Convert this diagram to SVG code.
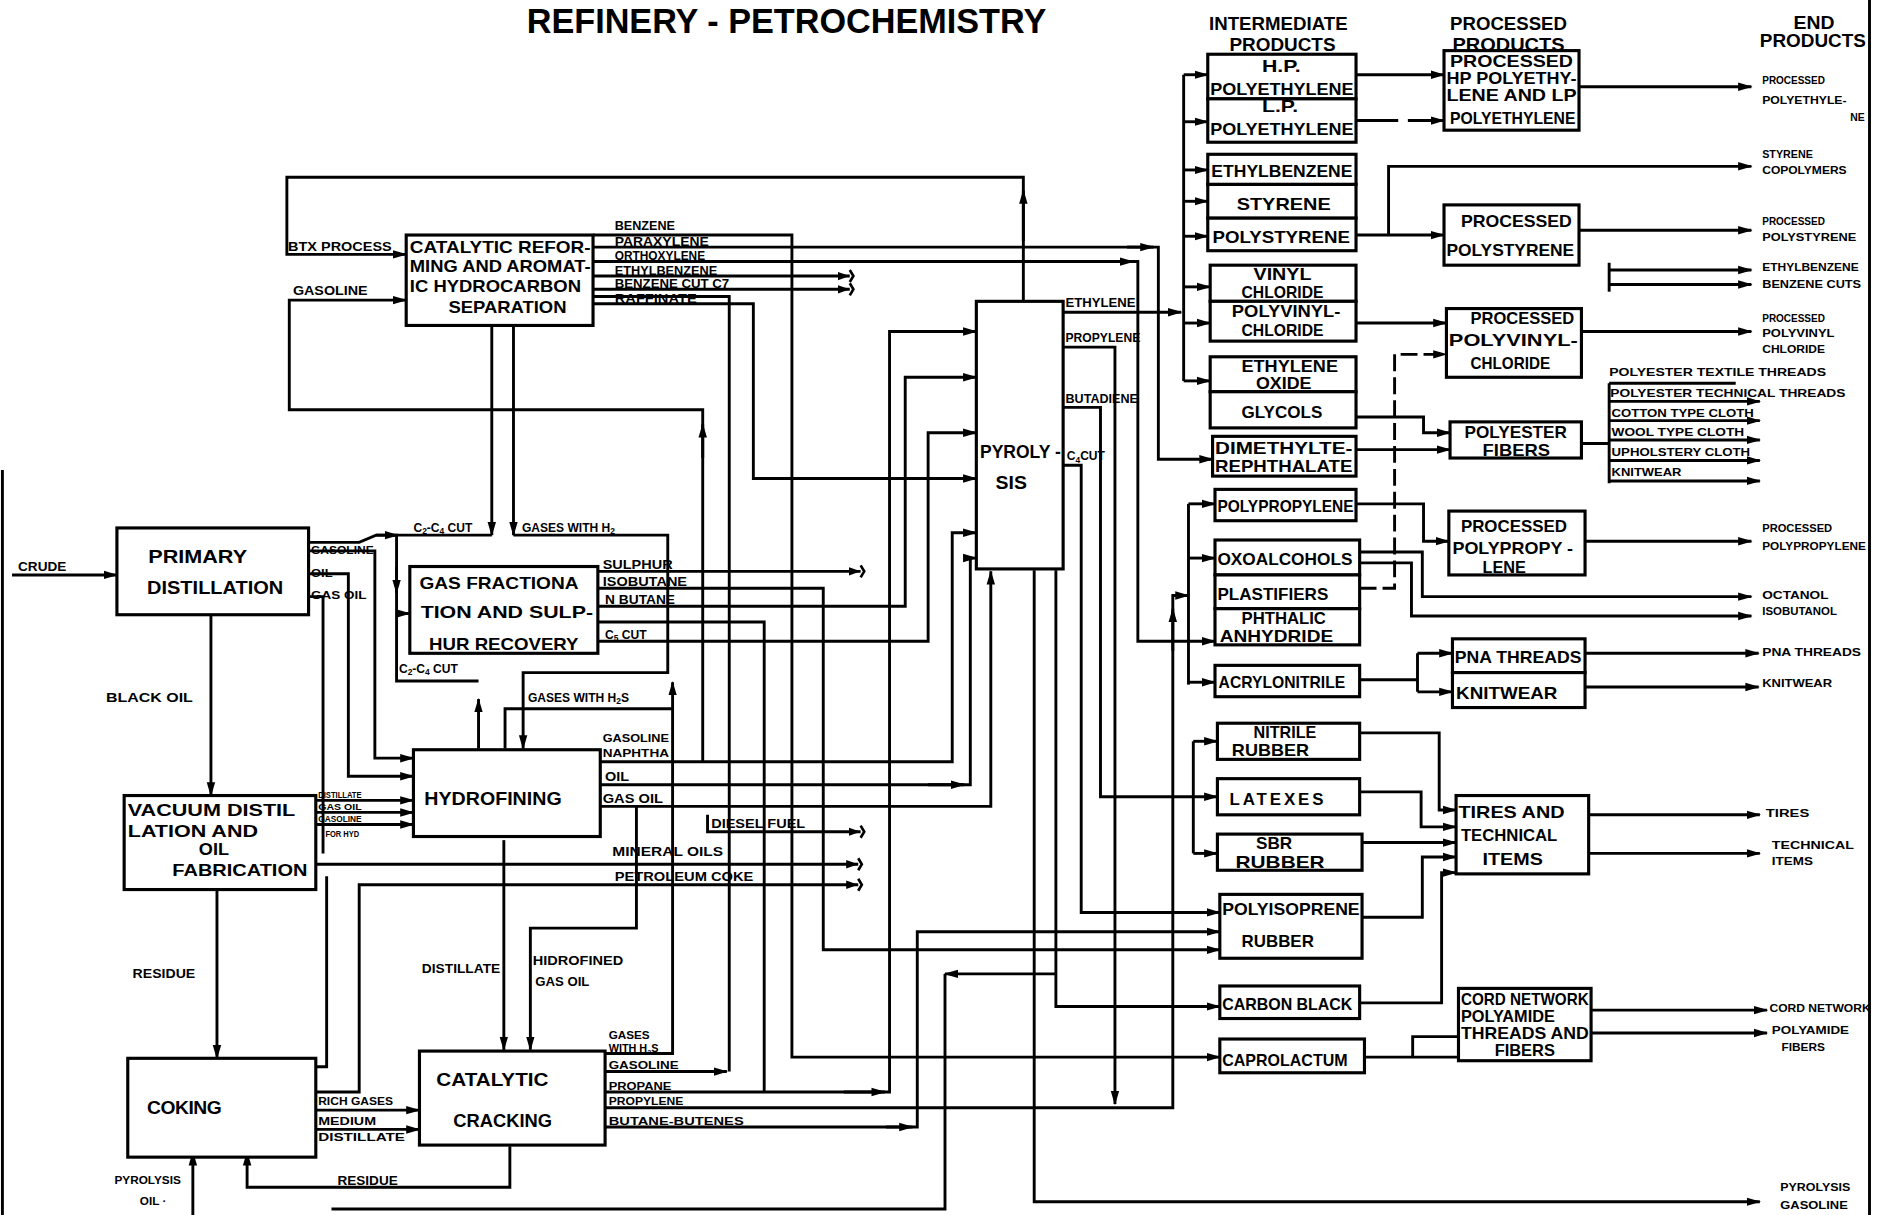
<svg xmlns="http://www.w3.org/2000/svg" width="1890" height="1215" viewBox="0 0 1890 1215">
<defs>
<style>
.bx{fill:#fff;stroke:#000;stroke-width:2.6}
.c path{fill:none;stroke:#000;stroke-width:2.4}
.ar{marker-end:url(#a)}
.ab{marker-end:url(#ab)}
text{font-family:"Liberation Sans",Arial,sans-serif;fill:#000}
.n{font-size:16px;font-weight:bold}
.m{font-size:14px;font-weight:bold}
.s{font-size:10px;font-weight:bold}
.e{font-size:9px;font-weight:bold}
.h{font-size:16px;font-weight:bold}
</style>
<marker id="a" viewBox="0 0 12 8" refX="11" refY="4" markerWidth="12" markerHeight="8" orient="auto" markerUnits="userSpaceOnUse"><path d="M0,0.5 L12,4 L0,7.5 z" fill="#000"/></marker>
<marker id="ab" viewBox="0 0 15 12" refX="10" refY="6" markerWidth="15" markerHeight="12" orient="auto" markerUnits="userSpaceOnUse"><path d="M0,2.5 L10,6 L0,9.5 z" fill="#000"/><path d="M10,1 L13,6 L10,11" fill="none" stroke="#000" stroke-width="2.2"/></marker>
</defs>
<rect width="1890" height="1215" fill="#fff"/>
<g transform="scale(1.205357)">
<text x="437" y="27" font-size="29" font-weight="bold" textLength="431" lengthAdjust="spacingAndGlyphs">REFINERY - PETROCHEMISTRY</text>
<g id="headers">
<text class="h" x="1003" y="25" textLength="115" lengthAdjust="spacingAndGlyphs">INTERMEDIATE</text>
<text class="h" x="1020" y="42" textLength="88" lengthAdjust="spacingAndGlyphs">PRODUCTS</text>
<text class="h" x="1203" y="25" textLength="97" lengthAdjust="spacingAndGlyphs">PROCESSED</text>
<text class="h" x="1205" y="42" textLength="93" lengthAdjust="spacingAndGlyphs">PRODUCTS</text>
<text class="h" x="1488" y="24" textLength="34" lengthAdjust="spacingAndGlyphs">END</text>
<text class="h" x="1460" y="39" textLength="88" lengthAdjust="spacingAndGlyphs">PRODUCTS</text>
</g>
<g id="connectors" class="c">
<path class="ar" d="M10 477H97"/>
<path class="ar" d="M175 510V660"/>
<path class="ar" d="M180 738V878"/>
<path class="ar" d="M849 250V147H238V211H337"/>
<path class="ar" d="M849 200V158"/>
<path class="ar" d="M583 632V340H240V249H337"/>
<path class="ar" d="M583 380V352"/>
<path class="ar" d="M408 270V444"/>
<path d="M256 450H298L312 444H408"/>
<path class="ar" d="M312 444H330"/>
<path d="M329 444V565H397"/>
<path class="ar" d="M329 470V492"/>
<path class="ar" d="M329 509H340"/>
<path class="ar" d="M397 621V580"/>
<path class="ar" d="M426 270V444"/>
<path class="ar" d="M426 444H554V558H434V621"/>
<path class="ar" d="M419 621V588H558V566"/>
<path d="M502 874H558V588"/>
<path class="ar" d="M256 457H311V629H343"/>
<path class="ar" d="M256 476H289V644H343"/>
<path d="M256 495H268V708M271 727V885H262"/>
<path class="ar" d="M262 664H343"/>
<path class="ar" d="M262 674H343"/>
<path class="ar" d="M262 684H343"/>
<path class="ab" d="M262 717H712"/>
<path class="ab" d="M262 906H298V734H712"/>
<path class="ar" d="M262 921H348"/>
<path class="ar" d="M262 937H348"/>
<path class="ar" d="M418 697V871"/>
<path class="ar" d="M528 669V770H440V871"/>
<path class="ar" d="M423 951V985H205V956"/>
<path class="ar" d="M160 1008V956"/>
<path class="ab" d="M587 676V690H714"/>
<path class="ab" d="M496 474H714"/>
<path class="ar" d="M496 488H683V788H1012"/>
<path class="ar" d="M496 503H751V313H810"/>
<path d="M496 516H634V906"/>
<path class="ar" d="M496 532H770V359H810"/>
<path class="ar" d="M498 632H790V442H810"/>
<path class="ar" d="M498 651H805V463H810"/>
<path class="ar" d="M770 651H800"/>
<path class="ar" d="M498 669H822V474"/>
<path d="M492 246H605V889"/>
<path class="ar" d="M502 889H603"/>
<path class="ar" d="M502 906H738V275H810"/>
<path class="ar" d="M700 906H734"/>
<path class="ar" d="M502 919H973V494H986"/>
<path class="ar" d="M973 540V505"/>
<path class="ar" d="M502 935H761V773H1012"/>
<path class="ar" d="M735 935H757"/>
<path class="ar" d="M882 288H925V916"/>
<path class="ar" d="M882 338H913V661H1010"/>
<path d="M990 615V708"/>
<path class="ar" d="M990 615H1010"/>
<path class="ar" d="M990 708H1010"/>
<path class="ar" d="M882 386H897V757H1012"/>
<path class="ar" d="M882 259H980"/>
<path d="M982 62V316"/>
<path class="ar" d="M982 62H1002"/>
<path class="ar" d="M982 101H1002"/>
<path class="ar" d="M982 141H1002"/>
<path class="ar" d="M982 167H1002"/>
<path class="ar" d="M982 196H1002"/>
<path class="ar" d="M982 238H1004"/>
<path class="ar" d="M982 268H1004"/>
<path class="ar" d="M982 316H1004"/>
<path class="ar" d="M492 205H961V381H1006"/>
<path class="ar" d="M935 205H957"/>
<path class="ar" d="M492 217H944V532H1008"/>
<path class="ar" d="M915 217H940"/>
<path class="ab" d="M492 229H705"/>
<path class="ab" d="M492 240H705"/>
<path class="ar" d="M492 252H625V397H810"/>
<path class="ar" d="M492 195H657V877H1012"/>
<path d="M986 418V568"/>
<path class="ar" d="M986 418H1008"/>
<path class="ar" d="M986 463H1008"/>
<path class="ar" d="M986 566H1008"/>
<path class="ar" d="M858 473V997H1460"/>
<path class="ar" d="M876 473V835H1012"/>
<path class="ar" d="M876 808H784"/>
<path d="M784 808V1003H275"/>
<path class="ar" d="M1125 62H1198"/>
<path class="ar" d="M1125 100H1160M1168 100H1198"/>
<path class="ar" d="M1310 72H1453"/>
<path class="ar" d="M1125 195H1198"/>
<path class="ar" d="M1152 195V138H1453"/>
<path class="ar" d="M1310 191H1453"/>
<path class="ar" d="M1335 224H1453"/>
<path class="ar" d="M1335 236H1453"/>
<path d="M1335 218V242"/>
<path class="ar" d="M1125 268H1200"/>
<path class="ar" d="M1312 275H1453"/>
<path class="ar" d="M1128 488H1157V294H1200" stroke-dasharray="14 5"/>
<path class="ar" d="M1125 346H1181V359H1203"/>
<path class="ar" d="M1125 373H1203"/>
<path d="M1312 368H1335M1335 318V401M1335 318H1440"/>
<path class="ar" d="M1335 333H1460"/>
<path class="ar" d="M1335 349H1460"/>
<path class="ar" d="M1335 365H1460"/>
<path class="ar" d="M1335 382H1460"/>
<path class="ar" d="M1335 399H1460"/>
<path class="ar" d="M1125 418H1181V449H1202"/>
<path class="ar" d="M1315 449H1453"/>
<path class="ar" d="M1128 458H1180V495H1453"/>
<path class="ar" d="M1128 467H1171V511H1453"/>
<path d="M1128 564H1176M1176 542V574"/>
<path class="ar" d="M1176 542H1205"/>
<path class="ar" d="M1176 574H1205"/>
<path class="ar" d="M1315 542H1459"/>
<path class="ar" d="M1315 570H1459"/>
<path class="ar" d="M1128 608H1194V672H1208"/>
<path class="ar" d="M1128 657H1179V686H1208"/>
<path class="ar" d="M1130 699H1208"/>
<path class="ar" d="M1130 761H1180V711H1208"/>
<path class="ar" d="M1128 832H1196V724H1208"/>
<path class="ar" d="M1318 676H1460"/>
<path class="ar" d="M1318 708H1460"/>
<path d="M1132 877H1172V860H1210M1172 877H1210"/>
<path class="ar" d="M1320 838H1466"/>
<path class="ar" d="M1320 857H1466"/>
<path d="M1551 0V1008"/>
<path d="M2 390V1008"/>
</g>
<g id="labels">
<text class="s" x="15" y="474" textLength="40" lengthAdjust="spacingAndGlyphs">CRUDE</text>
<text class="s" x="88" y="582" textLength="72" lengthAdjust="spacingAndGlyphs">BLACK OIL</text>
<text class="s" x="110" y="811" textLength="52" lengthAdjust="spacingAndGlyphs">RESIDUE</text>
<text class="e" x="95" y="982" textLength="55" lengthAdjust="spacingAndGlyphs">PYROLYSIS</text>
<text class="e" x="116" y="1000" textLength="22" lengthAdjust="spacingAndGlyphs">OIL ·</text>
<text class="s" x="239" y="208" textLength="86" lengthAdjust="spacingAndGlyphs">BTX PROCESS</text>
<text class="s" x="243" y="245" textLength="62" lengthAdjust="spacingAndGlyphs">GASOLINE</text>
<text class="s" x="510" y="191" textLength="50" lengthAdjust="spacingAndGlyphs">BENZENE</text>
<text class="s" x="510" y="204" textLength="78" lengthAdjust="spacingAndGlyphs">PARAXYLENE</text>
<text class="s" x="510" y="216" textLength="75" lengthAdjust="spacingAndGlyphs">ORTHOXYLENE</text>
<text class="s" x="510" y="228" textLength="85" lengthAdjust="spacingAndGlyphs">ETHYLBENZENE</text>
<text class="s" x="510" y="239" textLength="95" lengthAdjust="spacingAndGlyphs">BENZENE CUT C7</text>
<text class="s" x="510" y="251" textLength="68" lengthAdjust="spacingAndGlyphs">RAFFINATE</text>
<text class="s" x="343" y="441">C<tspan font-size="7" dy="2">2</tspan><tspan dy="-2">-C</tspan><tspan font-size="7" dy="2">4</tspan><tspan dy="-2"> CUT</tspan></text>
<text class="s" x="433" y="441">GASES WITH H<tspan font-size="7" dy="2">2</tspan></text>
<text class="e" x="258" y="460" textLength="52" lengthAdjust="spacingAndGlyphs">GASOLINE</text>
<text class="e" x="258" y="479" textLength="18" lengthAdjust="spacingAndGlyphs">OIL</text>
<text class="e" x="258" y="497" textLength="46" lengthAdjust="spacingAndGlyphs">GAS OIL</text>
<text class="s" x="500" y="472" textLength="58" lengthAdjust="spacingAndGlyphs">SULPHUR</text>
<text class="s" x="500" y="486" textLength="70" lengthAdjust="spacingAndGlyphs">ISOBUTANE</text>
<text class="s" x="502" y="501" textLength="58" lengthAdjust="spacingAndGlyphs">N BUTANE</text>
<text class="s" x="502" y="530">C<tspan font-size="7" dy="2">5</tspan><tspan dy="-2"> CUT</tspan></text>
<text class="s" x="331" y="558">C<tspan font-size="7" dy="2">2</tspan><tspan dy="-2">-C</tspan><tspan font-size="7" dy="2">4</tspan><tspan dy="-2"> CUT</tspan></text>
<text class="s" x="438" y="582">GASES WITH H<tspan font-size="7" dy="2">2</tspan><tspan dy="-2">S</tspan></text>
<text class="e" x="500" y="616" textLength="55" lengthAdjust="spacingAndGlyphs">GASOLINE</text>
<text class="e" x="500" y="628" textLength="55" lengthAdjust="spacingAndGlyphs">NAPHTHA</text>
<text class="s" x="502" y="648" textLength="20" lengthAdjust="spacingAndGlyphs">OIL</text>
<text class="s" x="500" y="666" textLength="50" lengthAdjust="spacingAndGlyphs">GAS OIL</text>
<text style="font-size:7px;font-weight:bold" x="264" y="662" textLength="36" lengthAdjust="spacingAndGlyphs">DISTILLATE</text>
<text style="font-size:7px;font-weight:bold" x="264" y="672" textLength="36" lengthAdjust="spacingAndGlyphs">GAS OIL</text>
<text style="font-size:7px;font-weight:bold" x="264" y="682" textLength="36" lengthAdjust="spacingAndGlyphs">GASOLINE</text>
<text style="font-size:7px;font-weight:bold" x="270" y="694" textLength="28" lengthAdjust="spacingAndGlyphs">FOR HYD</text>
<text class="s" x="590" y="687" textLength="78" lengthAdjust="spacingAndGlyphs">DIESEL FUEL</text>
<text class="s" x="508" y="710" textLength="92" lengthAdjust="spacingAndGlyphs">MINERAL OILS</text>
<text class="s" x="510" y="731" textLength="115" lengthAdjust="spacingAndGlyphs">PETROLEUM COKE</text>
<text class="s" x="350" y="807" textLength="65" lengthAdjust="spacingAndGlyphs">DISTILLATE</text>
<text class="s" x="442" y="801" textLength="75" lengthAdjust="spacingAndGlyphs">HIDROFINED</text>
<text class="s" x="444" y="818" textLength="45" lengthAdjust="spacingAndGlyphs">GAS OIL</text>
<text class="e" x="264" y="917" textLength="62" lengthAdjust="spacingAndGlyphs">RICH GASES</text>
<text class="e" x="264" y="933" textLength="48" lengthAdjust="spacingAndGlyphs">MEDIUM</text>
<text class="e" x="264" y="947" textLength="72" lengthAdjust="spacingAndGlyphs">DISTILLATE</text>
<text class="e" x="505" y="862" textLength="34" lengthAdjust="spacingAndGlyphs">GASES</text>
<text class="e" x="505" y="873">WITH H<tspan font-size="6" dy="2">2</tspan><tspan dy="-2">S</tspan></text>
<text class="e" x="505" y="887" textLength="58" lengthAdjust="spacingAndGlyphs">GASOLINE</text>
<text class="e" x="505" y="904" textLength="52" lengthAdjust="spacingAndGlyphs">PROPANE</text>
<text class="e" x="505" y="917" textLength="62" lengthAdjust="spacingAndGlyphs">PROPYLENE</text>
<text class="e" x="505" y="933" textLength="112" lengthAdjust="spacingAndGlyphs">BUTANE-BUTENES</text>
<text class="s" x="280" y="983" textLength="50" lengthAdjust="spacingAndGlyphs">RESIDUE</text>
<text class="s" x="884" y="255" textLength="58" lengthAdjust="spacingAndGlyphs">ETHYLENE</text>
<text class="s" x="884" y="284" textLength="62" lengthAdjust="spacingAndGlyphs">PROPYLENE</text>
<text class="s" x="884" y="334" textLength="60" lengthAdjust="spacingAndGlyphs">BUTADIENE</text>
<text class="s" x="885" y="382">C<tspan font-size="7" dy="2">4</tspan><tspan dy="-2">CUT</tspan></text>
</g>
<g id="catref"><rect class="bx" x="337" y="195" width="155" height="75"/>
<text class="m" x="340" y="210" textLength="150" lengthAdjust="spacingAndGlyphs">CATALYTIC REFOR-</text>
<text class="m" x="340" y="226" textLength="150" lengthAdjust="spacingAndGlyphs">MING AND AROMAT-</text>
<text class="m" x="340" y="242" textLength="142" lengthAdjust="spacingAndGlyphs">IC HYDROCARBON</text>
<text class="m" x="372" y="260" textLength="98" lengthAdjust="spacingAndGlyphs">SEPARATION</text></g>
<g id="primary"><rect class="bx" x="97" y="438" width="159" height="72"/>
<text class="n" x="123" y="467" textLength="82" lengthAdjust="spacingAndGlyphs">PRIMARY</text>
<text class="n" x="122" y="493" textLength="113" lengthAdjust="spacingAndGlyphs">DISTILLATION</text></g>
<g id="gasfrac"><rect class="bx" x="340" y="470" width="156" height="72"/>
<text class="m" x="348" y="489" textLength="132" lengthAdjust="spacingAndGlyphs">GAS FRACTIONA</text>
<text class="m" x="349" y="513" textLength="143" lengthAdjust="spacingAndGlyphs">TION AND SULP-</text>
<text class="m" x="356" y="539" textLength="124" lengthAdjust="spacingAndGlyphs">HUR RECOVERY</text></g>
<g id="hydrofining"><rect class="bx" x="343" y="622" width="155" height="72"/>
<text class="n" x="352" y="668" textLength="114" lengthAdjust="spacingAndGlyphs">HYDROFINING</text></g>
<g id="vacuum"><rect class="bx" x="103" y="660" width="159" height="78"/>
<text class="m" x="106" y="677" textLength="139" lengthAdjust="spacingAndGlyphs">VACUUM  DISTIL</text>
<text class="m" x="106" y="694" textLength="108" lengthAdjust="spacingAndGlyphs">LATION   AND</text>
<text class="m" x="165" y="709" textLength="25" lengthAdjust="spacingAndGlyphs">OIL</text>
<text class="m" x="143" y="727" textLength="112" lengthAdjust="spacingAndGlyphs">FABRICATION</text></g>
<g id="coking"><rect class="bx" x="106" y="878" width="156" height="82"/>
<text class="n" x="122" y="924" textLength="62" lengthAdjust="spacing">COKING</text></g>
<g id="catcracking"><rect class="bx" x="348" y="872" width="154" height="78"/>
<text class="n" x="362" y="901" textLength="93" lengthAdjust="spacingAndGlyphs">CATALYTIC</text>
<text class="n" x="376" y="935" textLength="82" lengthAdjust="spacingAndGlyphs">CRACKING</text></g>
<g id="pyrolysis"><rect class="bx" x="810" y="250" width="72" height="222"/>
<text class="n" x="813" y="380" textLength="67" lengthAdjust="spacingAndGlyphs">PYROLY -</text>
<text class="n" x="826" y="406" textLength="26" lengthAdjust="spacingAndGlyphs">SIS</text></g>
<g id="hppe"><rect class="bx" x="1002" y="45" width="123" height="37"/>
<text class="m" x="1047" y="60" textLength="32" lengthAdjust="spacingAndGlyphs">H.P.</text>
<text class="m" x="1004" y="79" textLength="119" lengthAdjust="spacingAndGlyphs">POLYETHYLENE</text></g>
<g id="lppe"><rect class="bx" x="1002" y="82" width="123" height="36"/>
<text class="m" x="1047" y="93" textLength="30" lengthAdjust="spacingAndGlyphs">L.P.</text>
<text class="m" x="1004" y="112" textLength="119" lengthAdjust="spacingAndGlyphs">POLYETHYLENE</text></g>
<g id="ethylbenzene"><rect class="bx" x="1002" y="128" width="123" height="25"/>
<text class="m" x="1005" y="147" textLength="117" lengthAdjust="spacingAndGlyphs">ETHYLBENZENE</text></g>
<g id="styrene"><rect class="bx" x="1002" y="153" width="123" height="28"/>
<text class="m" x="1026" y="174" textLength="78" lengthAdjust="spacingAndGlyphs">STYRENE</text></g>
<g id="polystyrene"><rect class="bx" x="1002" y="181" width="123" height="27"/>
<text class="m" x="1006" y="202" textLength="114" lengthAdjust="spacingAndGlyphs">POLYSTYRENE</text></g>
<g id="vinylchloride"><rect class="bx" x="1004" y="220" width="121" height="30"/>
<text class="m" x="1040" y="232" textLength="48" lengthAdjust="spacingAndGlyphs">VINYL</text>
<text class="m" x="1030" y="247" textLength="68" lengthAdjust="spacingAndGlyphs">CHLORIDE</text></g>
<g id="pvc"><rect class="bx" x="1004" y="250" width="121" height="33"/>
<text class="m" x="1022" y="263" textLength="90" lengthAdjust="spacingAndGlyphs">POLYVINYL-</text>
<text class="m" x="1030" y="279" textLength="68" lengthAdjust="spacingAndGlyphs">CHLORIDE</text></g>
<g id="ethyleneoxide"><rect class="bx" x="1004" y="296" width="121" height="29"/>
<text class="m" x="1030" y="309" textLength="80" lengthAdjust="spacingAndGlyphs">ETHYLENE</text>
<text class="m" x="1042" y="323" textLength="46" lengthAdjust="spacingAndGlyphs">OXIDE</text></g>
<g id="glycols"><rect class="bx" x="1004" y="325" width="121" height="30"/>
<text class="m" x="1030" y="347" textLength="67" lengthAdjust="spacingAndGlyphs">GLYCOLS</text></g>
<g id="dmt"><rect class="bx" x="1006" y="362" width="119" height="33"/>
<text class="m" x="1008" y="377" textLength="114" lengthAdjust="spacingAndGlyphs">DIMETHYLTE-</text>
<text class="m" x="1008" y="392" textLength="114" lengthAdjust="spacingAndGlyphs">REPHTHALATE</text></g>
<g id="polypropylene"><rect class="bx" x="1008" y="406" width="117" height="26"/>
<text class="m" x="1010" y="425" textLength="113" lengthAdjust="spacingAndGlyphs">POLYPROPYLENE</text></g>
<g id="oxoalcohols"><rect class="bx" x="1008" y="448" width="120" height="29"/>
<text class="m" x="1010" y="469" textLength="112" lengthAdjust="spacingAndGlyphs">OXOALCOHOLS</text></g>
<g id="plastifiers"><rect class="bx" x="1008" y="477" width="120" height="28"/>
<text class="m" x="1010" y="498" textLength="92" lengthAdjust="spacingAndGlyphs">PLASTIFIERS</text></g>
<g id="phthalic"><rect class="bx" x="1008" y="505" width="120" height="30"/>
<text class="m" x="1030" y="518" textLength="70" lengthAdjust="spacingAndGlyphs">PHTHALIC</text>
<text class="m" x="1012" y="533" textLength="94" lengthAdjust="spacingAndGlyphs">ANHYDRIDE</text></g>
<g id="acrylonitrile"><rect class="bx" x="1008" y="552" width="120" height="26"/>
<text class="m" x="1011" y="571" textLength="105" lengthAdjust="spacingAndGlyphs">ACRYLONITRILE</text></g>
<g id="nitrile"><rect class="bx" x="1010" y="600" width="118" height="30"/>
<text class="m" x="1040" y="612" textLength="52" lengthAdjust="spacingAndGlyphs">NITRILE</text>
<text class="m" x="1022" y="627" textLength="64" lengthAdjust="spacingAndGlyphs">RUBBER</text></g>
<g id="latexes"><rect class="bx" x="1010" y="646" width="118" height="30"/>
<text class="m" x="1020" y="668" textLength="78" lengthAdjust="spacing">LATEXES</text></g>
<g id="sbr"><rect class="bx" x="1010" y="692" width="120" height="30"/>
<text class="m" x="1042" y="704" textLength="30" lengthAdjust="spacingAndGlyphs">SBR</text>
<text class="m" x="1025" y="720" textLength="74" lengthAdjust="spacingAndGlyphs">RUBBER</text></g>
<g id="polyisoprene"><rect class="bx" x="1012" y="742" width="118" height="53"/>
<text class="m" x="1014" y="759" textLength="114" lengthAdjust="spacingAndGlyphs">POLYISOPRENE</text>
<text class="m" x="1030" y="786" textLength="60" lengthAdjust="spacingAndGlyphs">RUBBER</text></g>
<g id="carbonblack"><rect class="bx" x="1012" y="818" width="116" height="27"/>
<text class="m" x="1014" y="838" textLength="108" lengthAdjust="spacingAndGlyphs">CARBON BLACK</text></g>
<g id="caprolactum"><rect class="bx" x="1012" y="862" width="120" height="28"/>
<text class="m" x="1014" y="884" textLength="104" lengthAdjust="spacingAndGlyphs">CAPROLACTUM</text></g>
<g id="procpe"><rect class="bx" x="1198" y="42" width="112" height="66"/>
<text class="m" x="1203" y="56" textLength="102" lengthAdjust="spacingAndGlyphs">PROCESSED</text>
<text class="m" x="1200" y="70" textLength="108" lengthAdjust="spacingAndGlyphs">HP POLYETHY-</text>
<text class="m" x="1200" y="84" textLength="108" lengthAdjust="spacingAndGlyphs">LENE AND LP</text>
<text class="m" x="1203" y="103" textLength="104" lengthAdjust="spacingAndGlyphs">POLYETHYLENE</text></g>
<g id="procps"><rect class="bx" x="1198" y="170" width="112" height="50"/>
<text class="m" x="1212" y="188" textLength="92" lengthAdjust="spacingAndGlyphs">PROCESSED</text>
<text class="m" x="1200" y="212" textLength="106" lengthAdjust="spacingAndGlyphs">POLYSTYRENE</text></g>
<g id="procpvc"><rect class="bx" x="1200" y="256" width="112" height="57"/>
<text class="m" x="1220" y="269" textLength="86" lengthAdjust="spacingAndGlyphs">PROCESSED</text>
<text class="m" x="1202" y="287" textLength="107" lengthAdjust="spacingAndGlyphs">POLYVINYL-</text>
<text class="m" x="1220" y="306" textLength="66" lengthAdjust="spacingAndGlyphs">CHLORIDE</text></g>
<g id="polyesterfibers"><rect class="bx" x="1203" y="350" width="109" height="30"/>
<text class="m" x="1215" y="363" textLength="85" lengthAdjust="spacingAndGlyphs">POLYESTER</text>
<text class="m" x="1230" y="378" textLength="56" lengthAdjust="spacingAndGlyphs">FIBERS</text></g>
<g id="procpp"><rect class="bx" x="1202" y="424" width="113" height="53"/>
<text class="m" x="1212" y="441" textLength="88" lengthAdjust="spacingAndGlyphs">PROCESSED</text>
<text class="m" x="1205" y="460" textLength="100" lengthAdjust="spacingAndGlyphs">POLYPROPY -</text>
<text class="m" x="1230" y="475" textLength="36" lengthAdjust="spacingAndGlyphs">LENE</text></g>
<g id="pnathreads"><rect class="bx" x="1205" y="530" width="110" height="28"/>
<text class="m" x="1207" y="550" textLength="105" lengthAdjust="spacingAndGlyphs">PNA THREADS</text></g>
<g id="knitwear"><rect class="bx" x="1205" y="558" width="110" height="29"/>
<text class="m" x="1208" y="580" textLength="84" lengthAdjust="spacingAndGlyphs">KNITWEAR</text></g>
<g id="tires"><rect class="bx" x="1208" y="660" width="110" height="65"/>
<text class="m" x="1210" y="679" textLength="88" lengthAdjust="spacingAndGlyphs">TIRES AND</text>
<text class="m" x="1212" y="698" textLength="80" lengthAdjust="spacingAndGlyphs">TECHNICAL</text>
<text class="m" x="1230" y="718" textLength="50" lengthAdjust="spacingAndGlyphs">ITEMS</text></g>
<g id="cordnetwork"><rect class="bx" x="1210" y="820" width="110" height="60"/>
<text class="m" x="1212" y="834" textLength="106" lengthAdjust="spacingAndGlyphs">CORD NETWORK</text>
<text class="m" x="1212" y="848" textLength="78" lengthAdjust="spacingAndGlyphs">POLYAMIDE</text>
<text class="m" x="1212" y="862" textLength="106" lengthAdjust="spacingAndGlyphs">THREADS AND</text>
<text class="m" x="1240" y="876" textLength="50" lengthAdjust="spacingAndGlyphs">FIBERS</text></g>
<g id="endproducts">
<text class="e" x="1462" y="70" textLength="52" lengthAdjust="spacingAndGlyphs">PROCESSED</text>
<text class="e" x="1462" y="86" textLength="70" lengthAdjust="spacingAndGlyphs">POLYETHYLE-</text>
<text class="e" x="1535" y="100" textLength="12" lengthAdjust="spacingAndGlyphs">NE</text>
<text class="e" x="1462" y="131" textLength="42" lengthAdjust="spacingAndGlyphs">STYRENE</text>
<text class="e" x="1462" y="144" textLength="70" lengthAdjust="spacingAndGlyphs">COPOLYMERS</text>
<text class="e" x="1462" y="187" textLength="52" lengthAdjust="spacingAndGlyphs">PROCESSED</text>
<text class="e" x="1462" y="200" textLength="78" lengthAdjust="spacingAndGlyphs">POLYSTYRENE</text>
<text class="e" x="1462" y="225" textLength="80" lengthAdjust="spacingAndGlyphs">ETHYLBENZENE</text>
<text class="e" x="1462" y="239" textLength="82" lengthAdjust="spacingAndGlyphs">BENZENE CUTS</text>
<text class="e" x="1462" y="267" textLength="52" lengthAdjust="spacingAndGlyphs">PROCESSED</text>
<text class="e" x="1462" y="280" textLength="60" lengthAdjust="spacingAndGlyphs">POLYVINYL</text>
<text class="e" x="1462" y="293" textLength="52" lengthAdjust="spacingAndGlyphs">CHLORIDE</text>
<text class="e" x="1335" y="312" textLength="180" lengthAdjust="spacingAndGlyphs">POLYESTER TEXTILE THREADS</text>
<text class="e" x="1336" y="329" textLength="195" lengthAdjust="spacingAndGlyphs">POLYESTER TECHNICAL THREADS</text>
<text class="e" x="1337" y="346" textLength="118" lengthAdjust="spacingAndGlyphs">COTTON TYPE CLOTH</text>
<text class="e" x="1337" y="362" textLength="110" lengthAdjust="spacingAndGlyphs">WOOL TYPE CLOTH</text>
<text class="e" x="1337" y="378" textLength="115" lengthAdjust="spacingAndGlyphs">UPHOLSTERY CLOTH</text>
<text class="e" x="1337" y="395" textLength="58" lengthAdjust="spacingAndGlyphs">KNITWEAR</text>
<text class="e" x="1462" y="441" textLength="58" lengthAdjust="spacingAndGlyphs">PROCESSED</text>
<text class="e" x="1462" y="456" textLength="86" lengthAdjust="spacingAndGlyphs">POLYPROPYLENE</text>
<text class="e" x="1462" y="497" textLength="55" lengthAdjust="spacingAndGlyphs">OCTANOL</text>
<text class="e" x="1462" y="510" textLength="62" lengthAdjust="spacingAndGlyphs">ISOBUTANOL</text>
<text class="e" x="1462" y="544" textLength="82" lengthAdjust="spacingAndGlyphs">PNA THREADS</text>
<text class="e" x="1462" y="570" textLength="58" lengthAdjust="spacingAndGlyphs">KNITWEAR</text>
<text class="e" x="1465" y="678" textLength="36" lengthAdjust="spacingAndGlyphs">TIRES</text>
<text class="e" x="1470" y="704" textLength="68" lengthAdjust="spacingAndGlyphs">TECHNICAL</text>
<text class="e" x="1470" y="718" textLength="34" lengthAdjust="spacingAndGlyphs">ITEMS</text>
<text class="e" x="1468" y="840" textLength="84" lengthAdjust="spacingAndGlyphs">CORD NETWORK</text>
<text class="e" x="1470" y="858" textLength="64" lengthAdjust="spacingAndGlyphs">POLYAMIDE</text>
<text class="e" x="1478" y="872" textLength="36" lengthAdjust="spacingAndGlyphs">FIBERS</text>
<text class="e" x="1477" y="988" textLength="58" lengthAdjust="spacingAndGlyphs">PYROLYSIS</text>
<text class="e" x="1477" y="1003" textLength="56" lengthAdjust="spacingAndGlyphs">GASOLINE</text>
</g>
</g>
</svg>
